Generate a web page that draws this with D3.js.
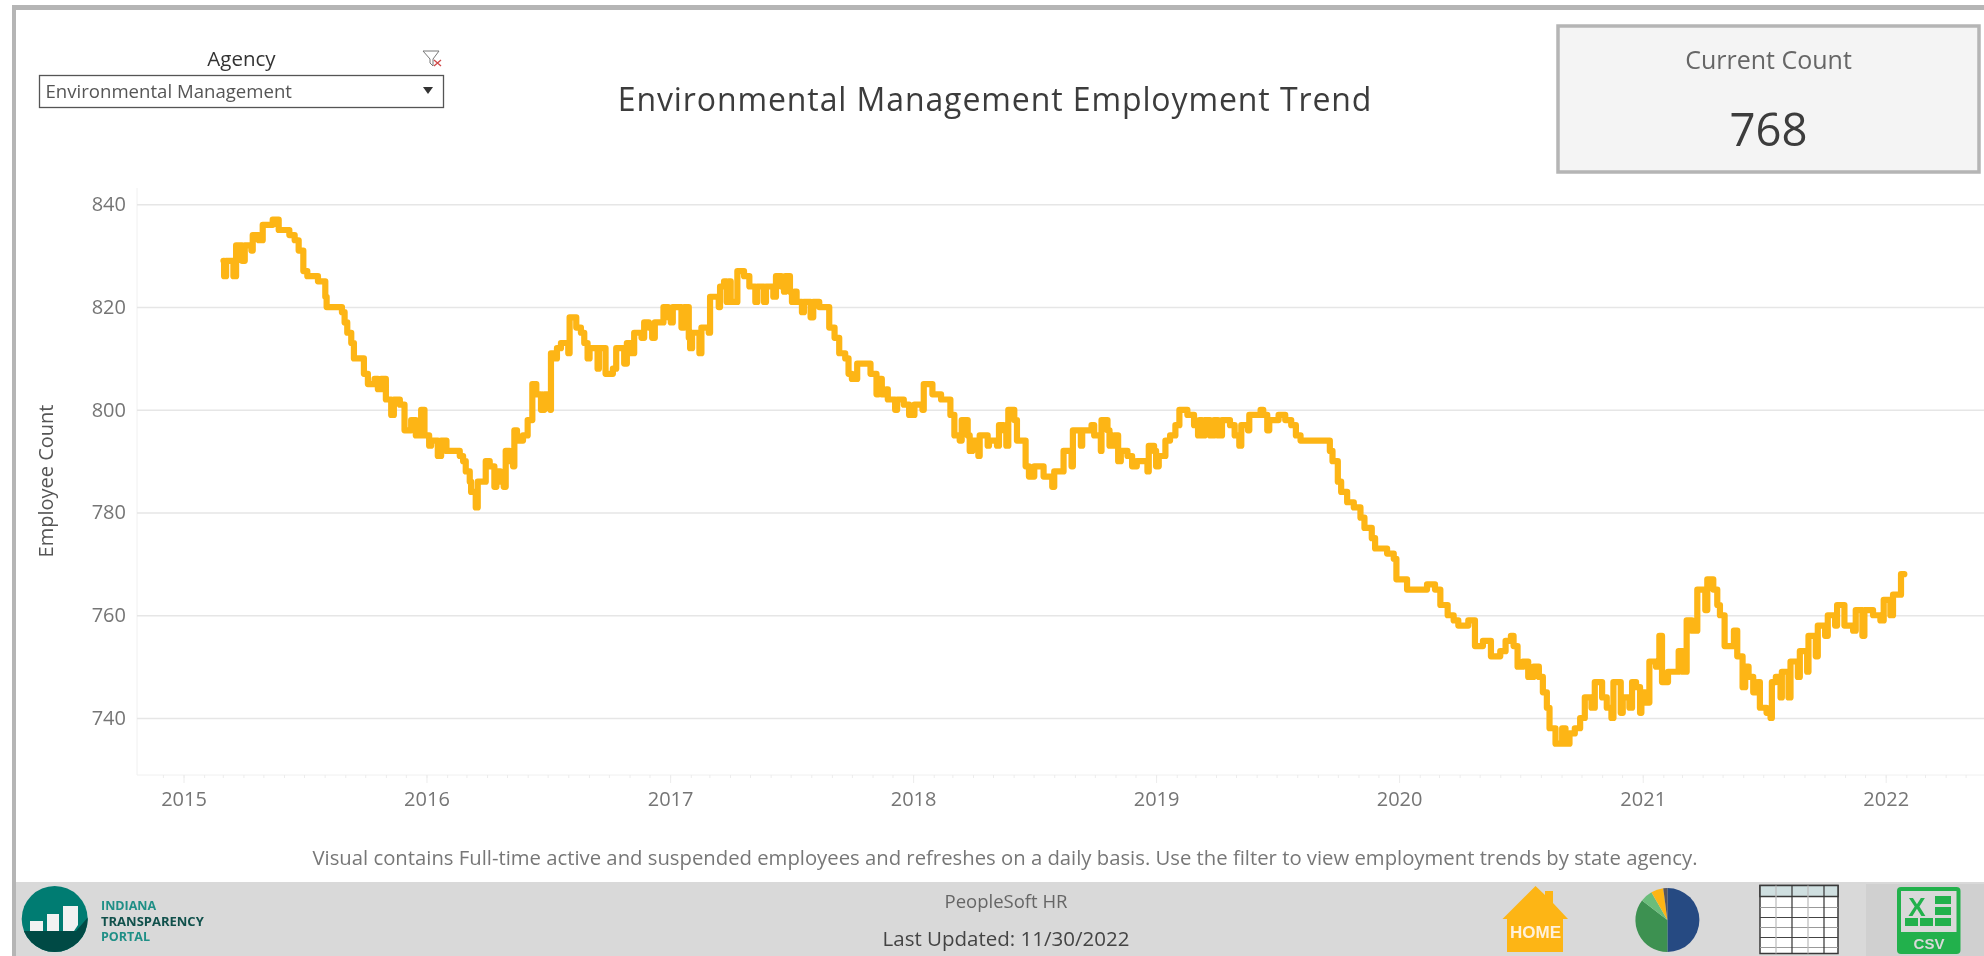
<!DOCTYPE html>
<html>
<head>
<meta charset="utf-8">
<title>Environmental Management Employment Trend</title>
<script src="https://cdn.jsdelivr.net/npm/d3@7"></script>
<style>
  html, body { margin: 0; background: #fff; overflow: hidden; }
  svg { filter: blur(0.45px); }
  text { font-family: "Open Sans", sans-serif; }
  .axis .domain { stroke: #f0f0f0; }
  .axis text { fill: #757575; font-size: 20px; }
</style>
</head>
<body>
<div id="chart"></div>
<script>
// days after 2015-01-01 at which the head count changed, and the new count
const days = [
  60, 61, 64, 75, 79, 88, 92, 102, 104, 113, 119, 134, 143, 159, 167, 173, 180, 186, 202, 213,
  215, 238, 242, 246, 252, 256, 271, 277, 287, 292, 297, 304, 312, 316, 325, 332, 342, 349, 357, 362,
  369, 372, 382, 387, 395, 415, 420, 424, 430, 432, 439, 442, 454, 460, 467, 470, 476, 481, 484, 490,
  495, 497, 501, 510, 517, 524, 530, 537, 542, 551, 552, 559, 561, 567, 578, 580, 590, 597, 602, 607,
  610, 622, 624, 634, 645, 650, 662, 666, 672, 677,
  688, 692, 699, 704, 708, 721, 728, 732, 735, 748, 752, 759, 761, 764, 775, 778, 789, 791, 804, 806,
  812, 816, 819, 822, 832, 842, 850, 859, 862, 872, 875, 886, 890, 898, 902, 904, 911, 914, 918, 921,
  929, 932, 942, 946, 955, 970, 978, 985, 994, 999, 1004, 1012, 1032, 1041, 1044, 1049, 1056, 1058, 1069, 1072,
  1082, 1090, 1098, 1110, 1112, 1125, 1138, 1152, 1158, 1166, 1169, 1178, 1181, 1185, 1194, 1196, 1208, 1210, 1222, 1225,
  1232, 1236, 1239, 1248, 1252, 1265, 1270, 1278, 1292, 1305, 1308, 1322, 1334, 1336, 1348, 1350, 1364, 1368, 1378, 1379,
  1388, 1391, 1398, 1404, 1408, 1418, 1425, 1432,
  1440, 1448, 1450, 1458, 1461, 1465, 1475, 1482, 1490, 1496, 1508, 1518, 1524, 1526, 1530, 1534, 1542, 1548, 1554, 1560,
  1572, 1579, 1586, 1589, 1599, 1601, 1618, 1622, 1628, 1631, 1645, 1655, 1664, 1671, 1678, 1722, 1726, 1734, 1739, 1748,
  1758, 1768, 1774, 1785, 1790, 1808, 1818, 1822, 1838, 1868, 1880, 1888, 1899, 1908, 1915, 1930, 1940, 1952, 1964, 1978,
  1986, 1994, 1998, 2004, 2012, 2020, 2028, 2036, 2042, 2048, 2052, 2061, 2071, 2076, 2082, 2090, 2098, 2105, 2115,
  2120, 2131, 2138, 2145, 2148, 2159, 2162, 2172, 2176, 2182, 2188, 2190, 2196, 2202, 2212, 2217, 2221, 2230, 2246, 2252,
  2258, 2266, 2274, 2286, 2289, 2298, 2304, 2308, 2315, 2329, 2334, 2342, 2346, 2351, 2358, 2365, 2368, 2378, 2384, 2386,
  2392, 2399, 2401, 2411, 2414, 2425, 2428, 2439, 2441, 2452, 2455, 2466, 2470, 2481, 2484, 2495, 2508, 2512, 2522, 2525,
  2538, 2549, 2554, 2564, 2568, 2580, 2585
];
const counts = [
  829, 826, 829, 826, 832, 829, 832, 831, 834, 833, 836, 837, 835, 834, 833, 831, 827, 826, 825, 822,
  820, 819, 817, 815, 813, 810, 807, 805, 806, 804, 806, 802, 799, 802, 801, 796, 798, 795, 800, 795,
  793, 794, 791, 794, 792, 791, 790, 788, 786, 784, 781, 786, 790, 789, 785, 788, 786, 785, 792, 790,
  789, 796, 794, 795, 798, 805, 803, 800, 803, 800, 811, 810, 812, 813, 811, 818, 816, 815, 813, 810,
  812, 808, 812, 807, 808, 812, 809, 813, 811, 815,
  814, 817, 816, 814, 817, 820, 818, 817, 820, 816, 820, 814, 812, 815, 811, 816, 815, 822, 820, 824,
  825, 821, 825, 821, 827, 826, 824, 821, 824, 821, 824, 822, 826, 824, 823, 826, 823, 821, 823, 821,
  819, 821, 818, 821, 820, 816, 814, 811, 810, 807, 806, 809, 807, 803, 806, 803, 804, 802, 800, 802,
  801, 799, 801, 800, 805, 803, 802, 799, 795, 794, 798, 795, 792, 794, 791, 795, 793, 794, 793, 797,
  796, 793, 800, 798, 794, 789, 787, 789, 787, 785, 788, 792, 789, 796, 793, 796, 797, 795, 792, 798,
  796, 793, 795, 790, 792, 791, 789, 790,
  790, 788, 793, 792, 789, 791, 794, 795, 797, 800, 799, 797, 795, 798, 795, 798, 795, 798, 795, 798,
  797, 795, 793, 797, 796, 799, 800, 799, 796, 798, 799, 798, 797, 795, 794, 792, 790, 786, 784, 782,
  781, 779, 777, 775, 773, 772, 771, 767, 765, 766, 765, 762, 760, 759, 758, 759, 754, 755, 752, 753,
  755, 756, 754, 750, 751, 748, 750, 748, 745, 742, 738, 735, 738, 735, 737, 738, 740, 744, 742,
  747, 744, 742, 740, 747, 741, 744, 742, 747, 746, 741, 745, 743, 751, 750, 756, 747, 749, 753, 749,
  759, 757, 765, 761, 767, 765, 762, 760, 754, 757, 752, 746, 750, 748, 745, 747, 742, 741, 740, 747,
  748, 744, 749, 744, 751, 748, 753, 749, 756, 752, 758, 756, 760, 758, 762, 758, 757, 761, 756, 761,
  760, 759, 763, 760, 764, 768, 768
];

const yTicks = [740, 760, 780, 800, 820, 840];
const xYears = [2015, 2016, 2017, 2018, 2019, 2020, 2021, 2022];
const pieShares = [48, 34, 6, 6, 2];
const pieColors = ["#264a82", "#3d9151", "#6abd7b", "#fdb515", "#56565f"];
const tableRows = [0, 1, 2, 3, 4, 5];

const width = 1984;
const height = 956;
const plot = {left: 137, right: 1984, top: 188, bottom: 775};
const start = new Date(2015, 0, 1);

const svg = d3.select("#chart").append("svg")
  .attr("width", width)
  .attr("height", height)
  .style("display", "block");

const x = d3.scaleTime()
  .domain([start, new Date(2022, 0, 1)])
  .range([183.5, 1885.7]);
const y = d3.scaleLinear()
  .domain([740, 840])
  .range([718, 204.3]);

function label(px, py, str, size, color, anchor = "middle") {
  return svg.append("text")
    .attr("x", px)
    .attr("y", py)
    .attr("dy", "0.35em")
    .attr("text-anchor", anchor)
    .attr("font-size", size)
    .attr("fill", color)
    .text(str);
}

// outer frame
svg.append("rect").attr("x", 12).attr("y", 5).attr("width", width - 12).attr("height", 5).attr("fill", "#b5b5b5");
svg.append("rect").attr("x", 12).attr("y", 5).attr("width", 4).attr("height", height - 5).attr("fill", "#b5b5b5");

// axes
const yAxis = svg.append("g")
  .attr("class", "axis")
  .attr("transform", `translate(${plot.left},0)`)
  .call(d3.axisLeft(y).tickValues(yTicks).tickSize(0).tickPadding(11));
yAxis.select(".domain").attr("d", `M0,${plot.top}V${plot.bottom}`);
yAxis.selectAll(".tick").append("line")
  .attr("x2", plot.right - plot.left)
  .attr("stroke", "#e6e6e6")
  .attr("stroke-width", 1.5);

const monthTicks = d3.timeMonths(new Date(2014, 11, 1), new Date(2024, 4, 1));
const minorAxis = svg.append("g")
  .attr("class", "axis")
  .attr("transform", `translate(0,${plot.bottom})`)
  .call(d3.axisBottom(x).tickValues(monthTicks.filter(d => x(d) > plot.left)).tickSize(3).tickFormat(""));
minorAxis.select(".domain").attr("d", `M${plot.left},0H${plot.right}`);
minorAxis.selectAll(".tick line").attr("stroke", "#ececec");

const xAxis = svg.append("g")
  .attr("class", "axis")
  .attr("transform", `translate(0,${plot.bottom})`)
  .call(d3.axisBottom(x)
    .tickValues(xYears.map(year => new Date(year, 0, 1)))
    .tickSize(8)
    .tickPadding(9)
    .tickFormat(d3.timeFormat("%Y")));
xAxis.select(".domain").remove();
xAxis.selectAll(".tick line").attr("stroke", "#ececec");

label(45.5, 481, "Employee Count", 20, "#555").attr("transform", "rotate(-90,45.5,481)");

// trend line
const line = d3.line()
  .x(d => x(d3.timeDay.offset(start, d.day)))
  .y(d => y(d.count))
  .curve(d3.curveStepAfter);

svg.append("path")
  .datum(days.map((day, i) => ({day, count: counts[i]})))
  .attr("fill", "none")
  .attr("stroke", "#fdb515")
  .attr("stroke-width", 6.2)
  .attr("stroke-linejoin", "round")
  .attr("stroke-linecap", "round")
  .attr("d", line);

// title and filter
label(995, 100, "Environmental Management Employment Trend", 32, "#3c3c3c").attr("letter-spacing", 0.9);
label(241.5, 59, "Agency", 20.5, "#333");
svg.append("rect")
  .attr("x", 39.5).attr("y", 75.5).attr("width", 404).attr("height", 32)
  .attr("fill", "#fff").attr("stroke", "#555").attr("stroke-width", 1.3);
label(45.5, 91.5, "Environmental Management", 18.6, "#555", "start");
svg.append("path").attr("d", "M423,87h10l-5,7z").attr("fill", "#333");
svg.append("path")
  .attr("d", "M423,51h16l-6,8v7l-3,-3v-4z")
  .attr("fill", "none").attr("stroke", "#777").attr("stroke-width", 1);
svg.append("path")
  .attr("d", "M434,60l7,6M441,60l-7,6")
  .attr("stroke", "#d04b4b").attr("stroke-width", 1.4);

// current count card
svg.append("rect")
  .attr("x", 1558).attr("y", 26).attr("width", 421).attr("height", 146)
  .attr("fill", "#f4f4f4").attr("stroke", "#b5b5b5").attr("stroke-width", 3.5);
label(1768.5, 60.5, "Current Count", 25, "#666");
label(1768.5, 130, "768", 45.5, "#3c3c3c");

label(1005, 858, "Visual contains Full-time active and suspended employees and refreshes on a daily basis. Use the filter to view employment trends by state agency.", 20.3, "#777");

// footer band
svg.append("rect").attr("x", 16).attr("y", 882).attr("width", width - 16).attr("height", 74).attr("fill", "#d9d9d9");
svg.append("rect").attr("x", 1866).attr("y", 884).attr("width", 118).attr("height", 72).attr("fill", "#d0d0d0");
label(1006, 902, "PeopleSoft HR", 18.5, "#666");
label(1006, 939, "Last Updated: 11/30/2022", 20.5, "#444");

// portal logo
const clip = svg.append("clipPath").attr("id", "logo-clip");
clip.append("circle").attr("cx", 54.7).attr("cy", 919).attr("r", 33);
const logo = svg.append("g").attr("clip-path", "url(#logo-clip)");
logo.append("rect").attr("x", 20).attr("y", 884).attr("width", 70).attr("height", 70).attr("fill", "#007c72");
logo.append("path").attr("d", "M20,931L76,931L90,915V955H20z").attr("fill", "#004a45");
logo.append("rect").attr("x", 30).attr("y", 921).attr("width", 13).attr("height", 10).attr("fill", "#f2f2f2");
logo.append("rect").attr("x", 47).attr("y", 914).attr("width", 12).attr("height", 17).attr("fill", "#f2f2f2");
logo.append("path").attr("d", "M63,906H78V925L74,931H63z").attr("fill", "#f2f2f2");
label(101, 906, "INDIANA", 12.5, "#1f8f86", "start").attr("font-weight", 700);
label(101, 921, "TRANSPARENCY", 13, "#10504b", "start").attr("font-weight", 700);
label(101, 937, "PORTAL", 12.5, "#1f8f86", "start").attr("font-weight", 700);

// home icon
svg.append("path")
  .attr("d", "M1535.5,886L1545,895V891H1553V903L1568,919H1563V952H1507V919H1502.5z")
  .attr("fill", "#fdb515");
label(1535.5, 932, "HOME", 17, "#fff1db").attr("font-weight", 700).style("font-family", "Liberation Sans");

// pie icon
const pieGroup = svg.append("g").attr("transform", "translate(1667.4,920)");
pieGroup.selectAll("path")
  .data(d3.pie().sort(null)(pieShares))
  .join("path")
  .attr("d", d3.arc().innerRadius(0).outerRadius(32))
  .attr("fill", (d, i) => pieColors[i]);

// table icon
const table = svg.append("g").attr("transform", "translate(1760,885.5)");
table.append("rect").attr("width", 78).attr("height", 68).attr("fill", "#fff").attr("stroke", "#3a3a3a").attr("stroke-width", 1.5);
table.append("rect").attr("width", 78).attr("height", 11).attr("fill", "#cfdfe0").attr("stroke", "#3a3a3a").attr("stroke-width", 1.5);
table.selectAll("line.row")
  .data(tableRows)
  .join("line")
  .attr("class", "row")
  .attr("x2", 78)
  .attr("y1", d => 22 + d * 10)
  .attr("y2", d => 22 + d * 10)
  .attr("stroke", d => d % 2 ? "#444" : "#999")
  .attr("stroke-width", 1.2);
table.selectAll("line.col")
  .data([16, 32, 48, 64])
  .join("line")
  .attr("class", "col")
  .attr("x1", d => d).attr("x2", d => d)
  .attr("y2", 68)
  .attr("stroke", d => d % 32 ? "#bbb" : "#333")
  .attr("stroke-width", 1.2);

// csv icon
const csv = svg.append("g").attr("transform", "translate(1897,887)");
csv.append("rect").attr("width", 63.5).attr("height", 67).attr("rx", 4).attr("fill", "#22b14c");
csv.append("rect").attr("x", 4).attr("y", 4).attr("width", 55.5).attr("height", 41).attr("fill", "#d9d9d9");
csv.append("text").attr("x", 20).attr("y", 29).attr("text-anchor", "middle").attr("font-size", 26).attr("font-weight", 700).attr("fill", "#22b14c").style("font-family", "Liberation Sans").text("X");
csv.selectAll("rect.cell")
  .data([[38, 9, 16, 8], [38, 20, 16, 8], [38, 31, 16, 8], [8, 31, 13, 8], [23, 31, 13, 8]])
  .join("rect")
  .attr("class", "cell")
  .attr("x", d => d[0]).attr("y", d => d[1]).attr("width", d => d[2]).attr("height", d => d[3])
  .attr("fill", "#22b14c");
csv.append("text").attr("x", 32).attr("y", 62).attr("text-anchor", "middle").attr("font-size", 15).attr("font-weight", 700).attr("fill", "#d9d9d9").style("font-family", "Liberation Sans").text("CSV");
</script>
</body>
</html>
